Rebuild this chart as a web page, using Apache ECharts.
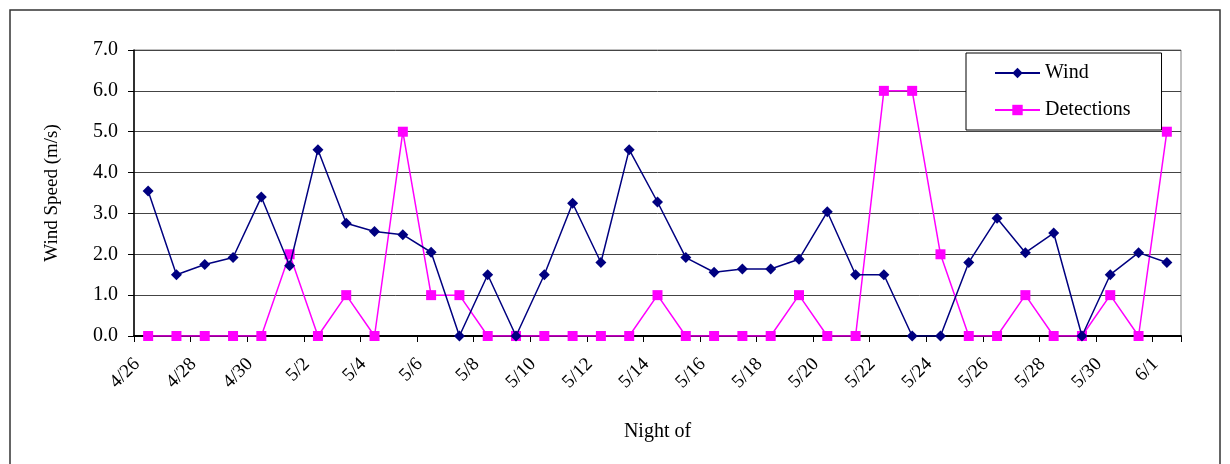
<!DOCTYPE html>
<html>
<head>
<meta charset="utf-8">
<script src="https://cdn.jsdelivr.net/npm/echarts@6/dist/echarts.min.js"></script>
<style>
html,body{margin:0;padding:0;background:#fff;}
#chart{width:1230px;height:464px;}
</style>
</head>
<body>
<div id="chart"></div>
<script>
const nights = ['4/26','4/27','4/28','4/29','4/30','5/1','5/2','5/3','5/4','5/5','5/6','5/7','5/8','5/9','5/10','5/11','5/12','5/13','5/14','5/15','5/16','5/17','5/18','5/19','5/20','5/21','5/22','5/23','5/24','5/25','5/26','5/27','5/28','5/29','5/30','5/31','6/1'];
const wind = [3.55,1.5,1.75,1.92,3.4,1.72,4.56,2.76,2.56,2.48,2.05,0,1.5,0,1.5,3.25,1.8,4.56,3.28,1.92,1.56,1.64,1.64,1.88,3.04,1.5,1.5,0,0,1.8,2.88,2.04,2.52,0,1.5,2.04,1.8];
const detections = [0,0,0,0,0,2,0,1,0,5,1,1,0,0,0,0,0,0,1,0,0,0,0,1,0,0,6,6,2,0,0,1,0,0,1,0,5];
const yTicks = {min:0, max:7, interval:1};

const FONT = 'Liberation Serif';
const chart = echarts.init(document.getElementById('chart'), null, {renderer:'canvas'});
chart.setOption({
  animation:false,
  backgroundColor:'#fff',
  textStyle:{fontFamily:FONT, color:'#000'},
  graphic:[{
    type:'rect', z:-10, silent:true,
    shape:{x:10, y:10, width:1210, height:470},
    style:{fill:'#fff', stroke:'#333', lineWidth:1.5}
  }],
  grid:{left:134, top:50, right:49, bottom:128, show:true, borderColor:'#808080', borderWidth:1, backgroundColor:'transparent'},
  legend:{
    left:966, top:53, orient:'vertical',
    backgroundColor:'#fff', borderColor:'#000', borderWidth:1,
    padding:[10,31,10,28], itemGap:17, itemWidth:45, itemHeight:13,
    textStyle:{fontFamily:FONT, fontSize:20, color:'#000'},
    data:['Wind','Detections']
  },
  xAxis:{
    type:'category', data:nights, boundaryGap:true,
    name:'Night of', nameLocation:'middle', nameGap:86,
    nameTextStyle:{fontFamily:FONT, fontSize:20, color:'#000'},
    axisLine:{lineStyle:{color:'#000', width:2}},
    axisTick:{show:true, interval:1, length:6, alignWithLabel:false, lineStyle:{color:'#000', width:1}},
    axisLabel:{interval:1, rotate:45, margin:14, padding:[0,16,0,0], fontFamily:FONT, fontSize:19, color:'#000'},
    splitLine:{show:false}
  },
  yAxis:{
    type:'value', min:yTicks.min, max:yTicks.max, interval:yTicks.interval,
    name:'Wind Speed (m/s)', nameLocation:'middle', nameGap:72, nameRotate:90,
    nameTextStyle:{fontFamily:FONT, fontSize:19, color:'#000'},
    axisLine:{show:true, lineStyle:{color:'#000', width:1.5}},
    axisTick:{show:true, length:6, lineStyle:{color:'#000'}},
    axisLabel:{formatter:v=>v.toFixed(1), margin:16, fontFamily:FONT, fontSize:20, color:'#000'},
    splitLine:{show:true, lineStyle:{color:'#444', width:1}}
  },
  series:[
    {name:'Wind', type:'line', data:wind, symbol:'diamond', symbolSize:11,
     lineStyle:{color:'#000080', width:1.5}, itemStyle:{color:'#000080'}, z:3},
    {name:'Detections', type:'line', data:detections, symbol:'rect', symbolSize:10,
     lineStyle:{color:'#FF00FF', width:1.5}, itemStyle:{color:'#FF00FF'}, z:2}
  ]
});
</script>
</body>
</html>
